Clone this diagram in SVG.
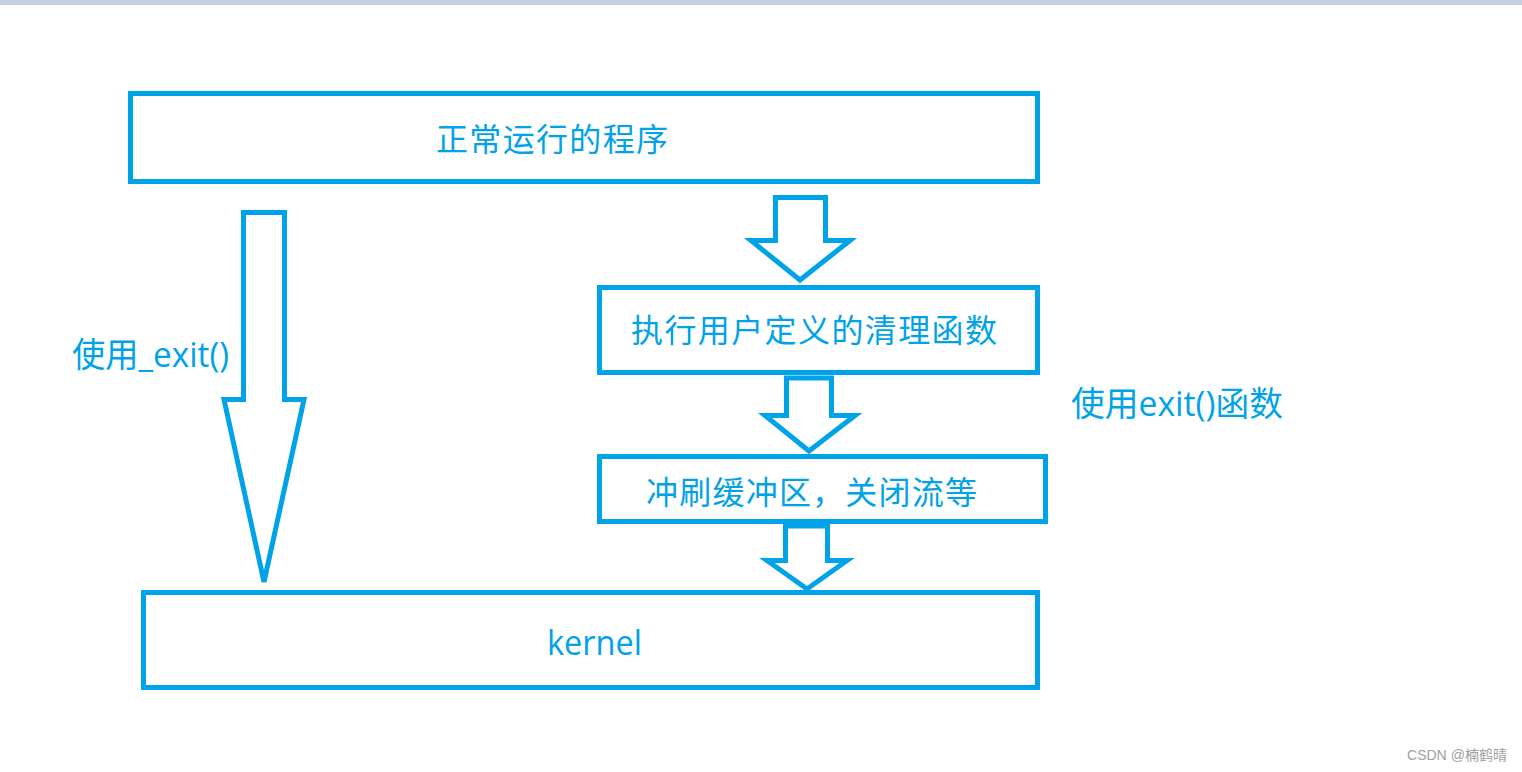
<svg xmlns="http://www.w3.org/2000/svg" width="1522" height="772" viewBox="0 0 1522 772">
<style>
.box{fill:#fff;stroke:#00a2e8;stroke-width:5}
.arr{fill:#fff;stroke:#00a2e8;stroke-width:5;stroke-linejoin:miter}
.t{fill:#00a2e8;font-family:"Open Sans","Noto Sans CJK SC",sans-serif}
.cjk{font-size:32px}
.lat{font-size:34px}
</style>
<rect x="0" y="0" width="1522" height="772" fill="#fff"/>
<rect x="0" y="0" width="1522" height="5" fill="#c4cfe0"/>
<g id="node-program">
<rect class="box" x="130.5" y="93.5" width="907" height="88"/>
<text class="t cjk" x="436" y="151" textLength="232" lengthAdjust="spacing">正常运行的程序</text>
</g>
<g id="node-cleanup">
<rect class="box" x="599.5" y="287.5" width="438" height="85"/>
<text class="t cjk" x="631" y="342" textLength="366" lengthAdjust="spacing">执行用户定义的清理函数</text>
</g>
<g id="node-flush">
<rect class="box" x="599.5" y="456.5" width="446" height="65"/>
<text class="t cjk" x="646" y="504" textLength="331" lengthAdjust="spacing">冲刷缓冲区，关闭流等</text>
</g>
<g id="node-kernel">
<rect class="box" x="143.5" y="592.5" width="894" height="95"/>
<text class="t lat" x="547" y="655" textLength="95" lengthAdjust="spacingAndGlyphs">kernel</text>
</g>
<g id="connectors">
<polygon class="arr" points="243.5,212.5 284.5,212.5 284.5,399.5 304,399.5 264,582 224,399.5 243.5,399.5"/>
<polygon class="arr" points="775.5,197.5 825.5,197.5 825.5,240.5 850,240.5 800,280 751,240.5 775.5,240.5"/>
<polygon class="arr" points="786.5,378 831.5,378 831.5,415.5 855,415.5 809,451 765,415.5 786.5,415.5"/>
<polygon class="arr" points="785.5,526 827.5,526 827.5,560.5 847,560.5 807,589 767,560.5 785.5,560.5"/>
<text class="t lat" x="72" y="367" textLength="157" lengthAdjust="spacingAndGlyphs">使用_exit()</text>
<text class="t lat" x="1071" y="416" textLength="212" lengthAdjust="spacingAndGlyphs">使用exit()函数</text>
</g>
<text x="1407" y="760" font-family="'Liberation Sans','Noto Sans CJK SC',sans-serif" font-size="14" fill="#a0a0a0" textLength="100" lengthAdjust="spacingAndGlyphs">CSDN @楠鹤晴</text>
</svg>
